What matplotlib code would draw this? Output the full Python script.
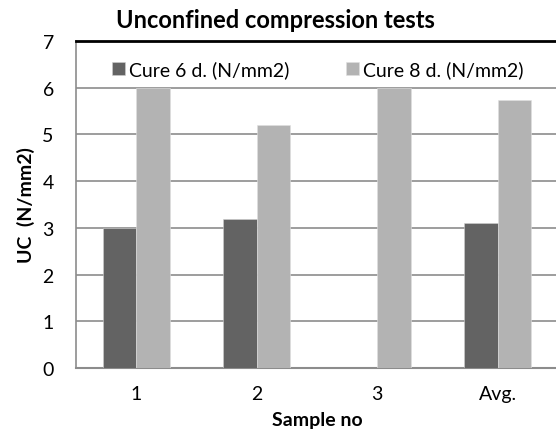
import matplotlib.pyplot as plt
import numpy as np

plt.rcParams['font.family'] = ['Lato', 'DejaVu Sans']

# Data
samples = ['1', '2', '3', 'Avg.']
cure6 = [3.0, 3.2, 0.0, 3.1]
cure8 = [6.0, 5.2, 6.0, 5.73]

W, H = 556, 439
fig = plt.figure(figsize=(W / 100, H / 100), dpi=100)
# plot area runs past the right edge of the picture
ax = fig.add_axes([76 / W, (H - 369) / H, 482 / W, 327 / H])

x = np.arange(len(samples))
w = 0.28
ax.bar(x - w/2, cure6, w, color='#636363', edgecolor='#d0d0d0', linewidth=0.4,
       label='Cure 6 d. (N/mm2)', zorder=3)
ax.bar(x + w/2, cure8, w, color='#b3b3b3', edgecolor='#e0e0e0', linewidth=0.4,
       label='Cure 8 d. (N/mm2)', zorder=3)

ax.set_xlim(-0.5, 3.5)
ax.set_ylim(0, 7)
ax.set_yticks(range(0, 8))
ax.set_xticks(x)
ax.set_xticklabels(samples)
ax.yaxis.grid(True, color='#8c8c8c', linewidth=1.2, zorder=0)
ax.tick_params(axis='both', length=0, labelsize=14, colors='black')
ax.tick_params(axis='x', pad=12)
ax.tick_params(axis='y', pad=16)

ax.spines['right'].set_visible(False)
ax.spines['top'].set_color('black')
ax.spines['top'].set_linewidth(2)
ax.spines['left'].set_color('#8c8c8c')
ax.spines['left'].set_linewidth(1.2)
ax.spines['bottom'].set_color('#8c8c8c')
ax.spines['bottom'].set_linewidth(1.5)

fig.text(317 / W, 1 - 421 / H, 'Sample no', fontsize=14, fontweight='bold',
         ha='center', va='center')
fig.text(25.5 / W, 1 - 205 / H, 'UC  (N/mm2)', fontsize=14, fontweight='bold',
         ha='center', va='center', rotation=90)
fig.text(275.5 / W, 1 - 21 / H, 'Unconfined compression tests', fontsize=17,
         fontweight='bold', ha='center', va='center')

leg = ax.legend(loc='center left', bbox_to_anchor=(110 / W, 1 - 70 / H),
                bbox_transform=fig.transFigure, ncol=2,
                frameon=True, facecolor='white', edgecolor='none', framealpha=1,
                fontsize=14, handlelength=0.67, handleheight=0.67,
                handletextpad=0.2, columnspacing=2.9, borderpad=0.1,
                borderaxespad=0)
leg.set_zorder(5)

plt.savefig('out.png', dpi=100)
